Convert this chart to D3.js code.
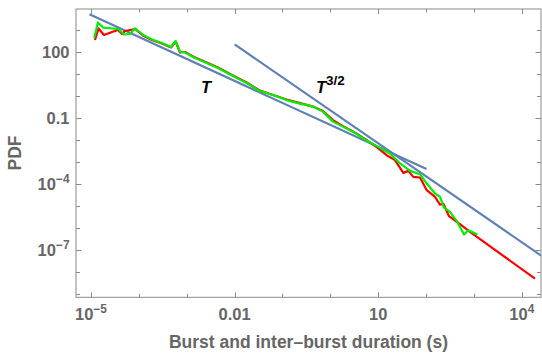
<!DOCTYPE html>
<html>
<head>
<meta charset="utf-8">
<script src="https://cdn.jsdelivr.net/npm/d3@7"></script>
<style>
  html, body { margin: 0; padding: 0; background: #fff; }
  svg { display: block; font-family: "Liberation Sans", Arial, sans-serif; }
</style>
</head>
<body>
<div id="chart"></div>
<script>
/* =====================================================
 * DATA (escala log-log)
 * ===================================================== */
const redX = [1.21e-5, 1.44e-5, 1.87e-5, 2.75e-5, 3.66e-5, 4.45e-5, 5.13e-5, 8.30e-5,
  1.24e-4, 1.88e-4, 3.04e-4, 4.69e-4, 5.87e-4, 7.23e-4, 9.20e-4, 1.42e-3, 2.61e-3,
  4.50e-3, 8.02e-3, 0.0179, 0.0339, 0.0634, 0.122, 0.232, 0.434, 0.702, 1.135, 1.837,
  3.436, 5.559, 9.29, 15.03, 22.39, 33.42, 42.46, 54.08, 74.64, 103.0, 153.5, 195.4,
  229.1, 301.3, 464.5, 826, 18840];
const redY = [363, 1213, 614, 839, 1038, 681, 933, 1151,
  570, 363, 252, 166, 310, 97.9, 103.3, 61.1, 34.4,
  20.3, 10.3, 4.22, 1.82, 1.14, 0.710, 0.491, 0.340, 0.212, 0.0826, 0.0441,
  0.0211, 0.0107, 4.88e-3, 2.10e-3, 1.25e-3, 3.29e-4, 4.06e-4, 2.16e-4, 2.03e-4, 5.37e-5, 2.65e-5, 1.17e-5,
  1.30e-5, 3.52e-6, 1.78e-6, 6.78e-7, 5.12e-9];

const greenX = [1.17e-5, 1.40e-5, 1.81e-5, 3.72e-5, 4.89e-5, 6.53e-5, 8.30e-5,
  1.24e-4, 1.88e-4, 3.04e-4, 4.69e-4, 5.87e-4, 7.23e-4, 9.20e-4, 1.42e-3, 2.61e-3,
  4.50e-3, 8.02e-3, 0.0179, 0.0339, 0.0634, 0.122, 0.232, 0.434, 0.702, 1.135, 1.837,
  3.436, 5.559, 9.29, 17.62, 28.51, 46.13, 74.64, 103.0, 153.5, 195.4, 236.6, 316.2,
  448.7, 619.4, 762.1, 1175];
const greenY = [462, 2275, 1318, 1151, 647, 681, 1239,
  614, 383, 265, 174, 327, 106.4, 97.9, 57.9, 32.6,
  19.3, 9.75, 4.00, 1.73, 1.14, 0.673, 0.466, 0.340, 0.201, 0.0706, 0.0418,
  0.0205, 0.0101, 5.41e-3, 2.52e-3, 8.81e-4, 4.06e-4, 2.87e-4, 1.08e-4, 3.79e-5, 2.65e-5, 8.75e-6, 5.51e-6,
  1.93e-6, 5.15e-7, 8.09e-7, 5.15e-7];

// Rectas de referencia: T^-1 y T^-3/2
const fitTX = [9.3e-6, 102];
const fitTY = [5376, 4.9e-4];
const fit32X = [0.01, 25120];
const fit32Y = [230, 5.78e-8];

// Ticks
const xTickExps = d3.range(-5, 5);          // 1e-5 ... 1e4
const yTickExps = d3.range(-9, 4);          // 1e-9 ... 1e3
const xLabels = { "-5": ["10", "\u22125"], "-2": ["0.01"], "1": ["10"], "4": ["10", "4"] };
const yLabels = { "2": ["100"], "-1": ["0.1"], "-4": ["10", "\u22124"], "-7": ["10", "\u22127"] };

/* =====================================================
 * LAYOUT
 * ===================================================== */
const W = 542, H = 355;
const frame = { left: 76, right: 541, top: 9, bottom: 297.3 };
const GRAY_LINE = "#8a8a8a";
const GRAY_TEXT = "#666666";
const BLUE = "#5e81b5";

const svg = d3.select("#chart").append("svg")
  .attr("width", W).attr("height", H)
  .attr("viewBox", `0 0 ${W} ${H}`);

const x = d3.scaleLog()
  .domain([Math.pow(10, -5.313), Math.pow(10, 4.40)])
  .range([frame.left, frame.right]);

const y = d3.scaleLog()
  .domain([Math.pow(10, -9.14), Math.pow(10, 3.97)])
  .range([frame.bottom, frame.top]);

svg.append("clipPath").attr("id", "clip")
  .append("rect")
  .attr("x", frame.left).attr("y", frame.top)
  .attr("width", frame.right - frame.left)
  .attr("height", frame.bottom - frame.top);

const line = d3.line().x(d => x(d[0])).y(d => y(d[1]));
const gPlot = svg.append("g").attr("clip-path", "url(#clip)");

function drawSeries(xs, ys, color) {
  gPlot.append("path")
    .datum(d3.zip(xs, ys))
    .attr("d", line)
    .attr("fill", "none")
    .attr("stroke", color)
    .attr("stroke-width", 2.2)
    .attr("stroke-linejoin", "round");
}

drawSeries(fitTX, fitTY, BLUE);
drawSeries(fit32X, fit32Y, BLUE);
drawSeries(redX, redY, "#ff0000");
drawSeries(greenX, greenY, "#00ee00");

/* =====================================================
 * FRAME + TICKS
 * ===================================================== */
const gFrame = svg.append("g")
  .attr("stroke", GRAY_LINE).attr("stroke-width", 1).attr("fill", "none");

gFrame.append("rect")
  .attr("x", frame.left).attr("y", frame.top)
  .attr("width", frame.right - frame.left)
  .attr("height", frame.bottom - frame.top);

xTickExps.forEach(e => {
  const px = Math.round(x(Math.pow(10, e))) + 0.5;
  const len = xLabels[e] ? 5 : 3.5;
  gFrame.append("line").attr("x1", px).attr("x2", px)
    .attr("y1", frame.bottom).attr("y2", frame.bottom - len);
  gFrame.append("line").attr("x1", px).attr("x2", px)
    .attr("y1", frame.top).attr("y2", frame.top + len);
});

yTickExps.forEach(e => {
  const py = Math.round(y(Math.pow(10, e))) + 0.5;
  const len = yLabels[e] ? 5.5 : 4;
  gFrame.append("line").attr("x1", frame.left).attr("x2", frame.left + len)
    .attr("y1", py).attr("y2", py);
  gFrame.append("line").attr("x1", frame.right).attr("x2", frame.right - len)
    .attr("y1", py).attr("y2", py);
});

/* =====================================================
 * LABELS
 * ===================================================== */
function addLabel(g, parts, size) {
  const t = g.append("text")
    .attr("fill", GRAY_TEXT)
    .attr("font-weight", "bold")
    .attr("font-size", size);
  t.append("tspan").text(parts[0]);
  if (parts[1]) {
    t.append("tspan").text(parts[1])
      .attr("font-size", size * 0.72)
      .attr("dy", -size * 0.42);
  }
  return t;
}

const TICK_FS = 16.5;
Object.keys(xLabels).forEach(k => {
  addLabel(svg, xLabels[k], TICK_FS)
    .attr("x", x(Math.pow(10, +k)))
    .attr("y", 319.5)
    .attr("text-anchor", "middle");
});

Object.keys(yLabels).forEach(k => {
  addLabel(svg, yLabels[k], TICK_FS)
    .attr("x", 69.5)
    .attr("y", y(Math.pow(10, +k)) + 5.8)
    .attr("text-anchor", "end");
});

svg.append("text")
  .attr("x", (frame.left + frame.right) / 2)
  .attr("y", 348)
  .attr("text-anchor", "middle")
  .attr("fill", GRAY_TEXT)
  .attr("font-weight", "bold")
  .attr("font-size", 17.5)
  .text("Burst and inter\u2013burst duration (s)");

svg.append("text")
  .attr("transform", "translate(20.5,153) rotate(-90)")
  .attr("text-anchor", "middle")
  .attr("fill", GRAY_TEXT)
  .attr("font-weight", "bold")
  .attr("font-size", 17.5)
  .text("PDF");

// Anotaciones de pendiente
svg.append("text")
  .attr("x", 201).attr("y", 92.5)
  .attr("font-weight", "bold").attr("font-style", "italic")
  .attr("font-size", 16.5).attr("fill", "#000")
  .text("T");

const t32 = svg.append("text")
  .attr("x", 316).attr("y", 93)
  .attr("font-weight", "bold").attr("font-style", "italic")
  .attr("font-size", 16.5).attr("fill", "#000");
t32.append("tspan").text("T");
t32.append("tspan").text("3/2")
  .attr("font-style", "normal")
  .attr("font-size", 13.5)
  .attr("dy", -8.5);
</script>
</body>
</html>
